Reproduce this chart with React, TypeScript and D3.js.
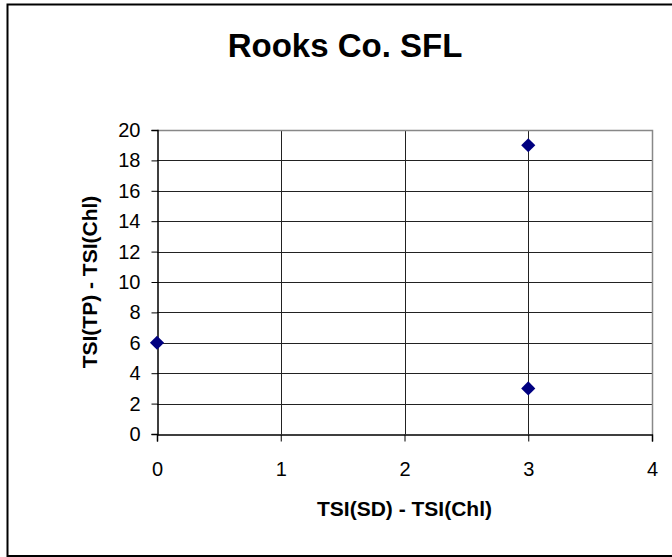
import { useEffect, useRef } from "react";
import * as d3 from "d3";

const chartTitle = "Rooks Co. SFL";
const xTitle = "TSI(SD) - TSI(Chl)";
const yTitle = "TSI(TP) - TSI(Chl)";

// TSI differences, one point per sample
const xValues = [0, 3, 3];
const yValues = [6, 19, 3];

const xTicks = [0, 1, 2, 3, 4];
const yTicks = [0, 2, 4, 6, 8, 10, 12, 14, 16, 18, 20];

const W = 672;
const H = 557;

const App = () => {
  const svgRef = useRef<SVGSVGElement>(null);

  useEffect(() => {
    const svg = d3.select(svgRef.current);
    svg.selectAll("*").remove();

    const font = "'Liberation Sans', Arial, sans-serif";
    const left = 157;
    const right = 652;
    const top = 130;
    const bottom = 434;

    const x = d3.scaleLinear().domain([0, 4]).range([left, right]);
    const y = d3.scaleLinear().domain([0, 20]).range([bottom, top]);

    // chart area frame (runs off the right edge like the original)
    svg
      .append("rect")
      .attr("x", 7.5)
      .attr("y", 4.5)
      .attr("width", 720)
      .attr("height", 551.5)
      .attr("fill", "white")
      .attr("stroke", "#000")
      .attr("stroke-width", 2);

    svg
      .append("text")
      .attr("x", 345)
      .attr("y", 57)
      .attr("text-anchor", "middle")
      .style("font-family", font)
      .style("font-weight", "bold")
      .style("font-size", "33px")
      .text(chartTitle);

    // gridlines
    svg
      .append("g")
      .selectAll("line")
      .data(yTicks.slice(1, -1))
      .join("line")
      .attr("x1", left)
      .attr("x2", right)
      .attr("y1", (d) => Math.round(y(d)) + 0.5)
      .attr("y2", (d) => Math.round(y(d)) + 0.5)
      .attr("stroke", "#222")
      .attr("stroke-width", 1);

    svg
      .append("g")
      .selectAll("line")
      .data(xTicks.slice(1, -1))
      .join("line")
      .attr("x1", (d) => Math.round(x(d)) + 0.5)
      .attr("x2", (d) => Math.round(x(d)) + 0.5)
      .attr("y1", top)
      .attr("y2", bottom)
      .attr("stroke", "#222")
      .attr("stroke-width", 1);

    // plot border top/right in gray
    svg
      .append("path")
      .attr("d", `M${left},${top + 0.5}H${right + 0.5}V${bottom}`)
      .attr("fill", "none")
      .attr("stroke", "#888")
      .attr("stroke-width", 1.5);

    // axes
    const yAxis = d3
      .axisLeft(y)
      .tickValues(yTicks)
      .tickFormat(d3.format("d"))
      .tickSize(6)
      .tickPadding(11);
    const gy = svg.append("g").attr("transform", `translate(${left + 0.5},0)`).call(yAxis);
    gy.select(".domain").attr("stroke", "#000").attr("stroke-width", 1.5);
    gy.selectAll(".tick line").attr("stroke", "#000");
    gy.selectAll(".tick text")
      .style("font-family", font)
      .style("font-size", "20px")
      .attr("fill", "#000");

    const xAxis = d3
      .axisBottom(x)
      .tickValues(xTicks)
      .tickFormat(d3.format("d"))
      .tickSize(7)
      .tickPadding(20);
    const gx = svg.append("g").attr("transform", `translate(0,${bottom + 0.5})`).call(xAxis);
    gx.select(".domain").attr("stroke", "#000").attr("stroke-width", 1.5);
    gx.selectAll(".tick line").attr("stroke", "#000");
    gx.selectAll(".tick text")
      .style("font-family", font)
      .style("font-size", "20px")
      .attr("fill", "#000");

    svg
      .append("text")
      .attr("x", (left + right) / 2)
      .attr("y", 516)
      .attr("text-anchor", "middle")
      .style("font-family", font)
      .style("font-weight", "bold")
      .style("font-size", "21px")
      .text(xTitle);

    svg
      .append("text")
      .attr("transform", `translate(97,${(top + bottom) / 2}) rotate(-90)`)
      .attr("text-anchor", "middle")
      .style("font-family", font)
      .style("font-weight", "bold")
      .style("font-size", "21px")
      .text(yTitle);

    // markers: navy diamonds
    const diamond = d3.symbol().type(d3.symbolSquare).size(100);
    svg
      .append("g")
      .selectAll("path")
      .data(xValues.map((v, i) => [v, yValues[i]]))
      .join("path")
      .attr("d", diamond)
      .attr("transform", (d) => `translate(${x(d[0])},${y(d[1])}) rotate(45)`)
      .attr("fill", "#000080");
  }, []);

  return (
    <svg
      ref={svgRef}
      width={W}
      height={H}
      style={{ position: "absolute", left: 0, top: 0 }}
    />
  );
};

export default App;
